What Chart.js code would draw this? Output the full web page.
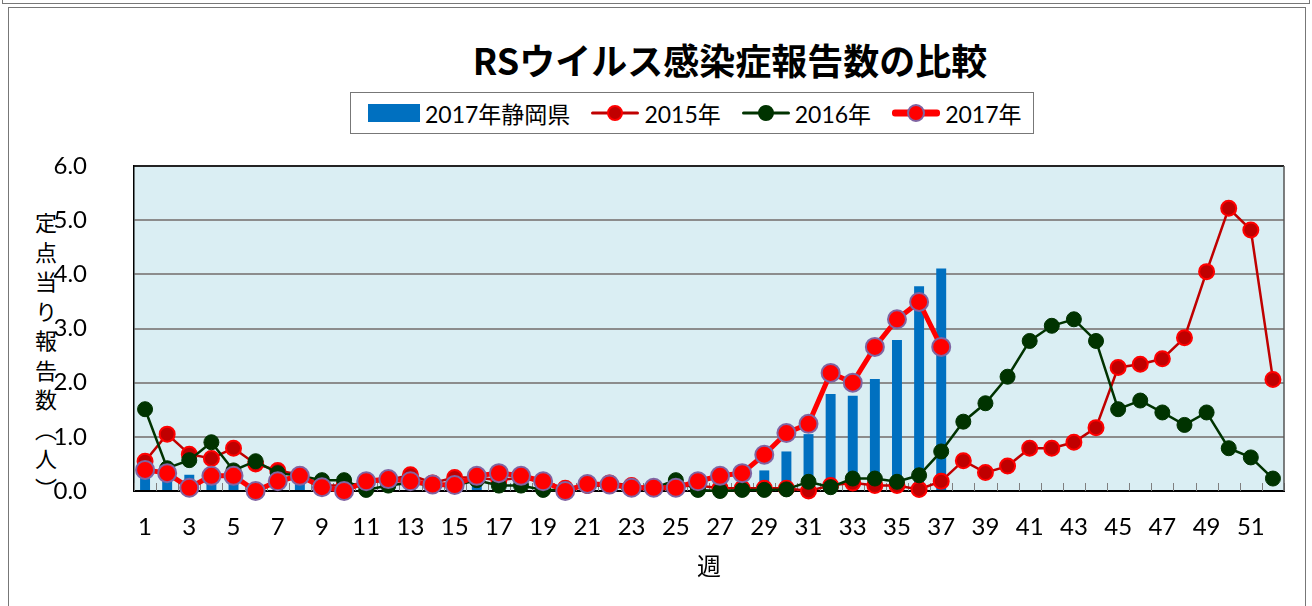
<!DOCTYPE html>
<html>
<head>
<meta charset="utf-8">
<script src="https://cdn.jsdelivr.net/npm/chart.js@4/dist/chart.umd.min.js"></script>
<style>
body { margin: 0; width: 1312px; height: 606px; background: #fff; position: relative; overflow: hidden;
       font-family: Lato, "Noto Sans CJK JP", sans-serif; }
#topbox { position: absolute; left: 2px; top: -10px; width: 1306px; height: 12px; border: 1px solid #777; }
#frame { position: absolute; left: 8px; top: 7px; width: 1296px; height: 640px; border: 1px solid #777; }
#title { position: absolute; left: 0; width: 1460px; text-align: center; top: 33px;
         font: bold 36px "Noto Sans CJK JP", sans-serif; white-space: nowrap; }
#legend { position: absolute; left: 350px; top: 92px; width: 684px; height: 42px; border: 1px solid #777; box-sizing: border-box;
          display: flex; align-items: center; padding-left: 17px; gap: 21px; font-size: 23px; }
#legend .it { display: flex; align-items: center; gap: 5px; }
#legend .bar { width: 52px; height: 18px; background: #0070C0; display: inline-block; }
#legend .ln { width: 48px; height: 18px; position: relative; display: inline-block; }
#legend .ln::before { content: ""; position: absolute; left: 0; right: 0; top: 50%; height: var(--lw); transform: translateY(-50%);
                      background: var(--c); border-radius: 3px; }
#legend .ln::after { content: ""; position: absolute; left: 50%; top: 50%; width: var(--d); height: var(--d);
                     transform: translate(-50%, -50%); border-radius: 50%; background: var(--f); border: 2px solid var(--b); box-sizing: border-box; }
#ytitle { position: absolute; left: 30px; top: 212px; writing-mode: vertical-rl; font: 22px "Noto Sans CJK JP", sans-serif;
          letter-spacing: 7.5px; }
canvas { position: absolute; left: 0; top: 0; }
</style>
</head>
<body>
<div id="topbox"></div>
<div id="frame"></div>
<div id="title">RSウイルス感染症報告数の比較</div>
<div id="legend">
  <span class="it"><i class="bar"></i>2017年静岡県</span>
  <span class="it"><i class="ln" style="--c:#C00000;--lw:3px;--d:16px;--f:#C00000;--b:#FF0000"></i>2015年</span>
  <span class="it"><i class="ln" style="--c:#003300;--lw:3px;--d:16px;--f:#003300;--b:#003300"></i>2016年</span>
  <span class="it"><i class="ln" style="--c:#FF0000;--lw:7px;--d:18px;--f:#FF0000;--b:#8064A2"></i>2017年</span>
</div>
<div id="ytitle">定点当り報告数（人）</div>
<canvas id="chart" width="1312" height="606"></canvas>
<script>
const weeks = [1, 2, 3, 4, 5, 6, 7, 8, 9, 10, 11, 12, 13, 14, 15, 16, 17, 18, 19, 20, 21, 22, 23, 24, 25, 26,
               27, 28, 29, 30, 31, 32, 33, 34, 35, 36, 37, 38, 39, 40, 41, 42, 43, 44, 45, 46, 47, 48, 49, 50, 51, 52];

const shizuoka2017 = [0.35, 0.2, 0.3, 0.25, 0.25, 0.0, 0.1, 0.15, 0.05, 0.0, 0.1, 0.1, 0.15, 0.05, 0.05, 0.2,
                      0.1, 0.15, 0.05, 0.0, 0.05, 0.05, 0.0, 0.0, 0.05, 0.1, 0.1, 0.1, 0.38, 0.73, 1.05, 1.79,
                      1.76, 2.07, 2.79, 3.78, 4.11];

const rate2015 = [0.55, 1.05, 0.68, 0.6, 0.79, 0.5, 0.38, 0.3, 0.1, 0.1, 0.15, 0.2, 0.3, 0.15, 0.25, 0.25,
                  0.2, 0.25, 0.15, 0.05, 0.1, 0.15, 0.1, 0.05, 0.1, 0.1, 0.05, 0.05, 0.05, 0.05, 0.0, 0.1,
                  0.15, 0.1, 0.1, 0.03, 0.18, 0.56, 0.34, 0.46, 0.79, 0.79, 0.9, 1.17, 2.28, 2.34, 2.44, 2.83,
                  4.05, 5.22, 4.82, 2.06];

const rate2016 = [1.51, 0.42, 0.57, 0.9, 0.38, 0.55, 0.33, 0.28, 0.2, 0.2, 0.02, 0.1, 0.15, 0.1, 0.1, 0.2,
                  0.1, 0.1, 0.02, 0.02, 0.1, 0.1, 0.05, 0.05, 0.2, 0.02, 0.0, 0.02, 0.02, 0.03, 0.17, 0.07,
                  0.23, 0.23, 0.17, 0.29, 0.73, 1.28, 1.62, 2.11, 2.77, 3.05, 3.17, 2.77, 1.51, 1.67, 1.45, 1.22,
                  1.45, 0.79, 0.62, 0.23];

const rate2017 = [0.39, 0.33, 0.06, 0.28, 0.28, 0.0, 0.18, 0.28, 0.07, 0.0, 0.18, 0.22, 0.18, 0.12, 0.11, 0.28,
                  0.33, 0.28, 0.18, 0.0, 0.13, 0.12, 0.06, 0.06, 0.06, 0.18, 0.28, 0.33, 0.67, 1.07, 1.24, 2.18,
                  2.0, 2.66, 3.17, 3.49, 2.66];

// plot background, inner tick marks on the x axis, top/right border
const plotDecor = {
    id: 'plotDecor',
    beforeDraw(chart) {
        const { ctx, chartArea: a } = chart;
        ctx.save();
        ctx.fillStyle = '#DAEEF3';
        ctx.fillRect(a.left, a.top, a.right - a.left, a.bottom - a.top);
        ctx.restore();
    },
    beforeDatasetsDraw(chart) {
        const { ctx, chartArea: a, scales: { x } } = chart;
        ctx.save();
        ctx.strokeStyle = '#7f7f7f';
        ctx.lineWidth = 1;
        for (let i = 0; i <= weeks.length; i++) {
            const px = Math.round(x.getPixelForValue(i - 0.5)) + 0.5;
            ctx.beginPath();
            ctx.moveTo(px, a.bottom);
            ctx.lineTo(px, a.bottom - 8);
            ctx.stroke();
        }
        ctx.strokeStyle = '#000';
        ctx.lineWidth = 1.5;
        ctx.beginPath();
        ctx.moveTo(a.left, a.top);
        ctx.lineTo(a.right, a.top);
        ctx.stroke();
        ctx.strokeStyle = '#555';
        ctx.beginPath();
        ctx.moveTo(a.right, a.top);
        ctx.lineTo(a.right, a.bottom);
        ctx.stroke();
        ctx.restore();
    }
};

new Chart(document.getElementById('chart'), {
    data: {
        labels: weeks,
        datasets: [
            {
                type: 'line', label: '2017年', data: rate2017, order: 0, clip: false,
                borderColor: '#FF0000', borderWidth: 5, backgroundColor: '#FF0000',
                pointRadius: 9, pointBorderWidth: 2, pointBorderColor: '#8064A2', pointBackgroundColor: '#FF0000'
            },
            {
                type: 'line', label: '2016年', data: rate2016, order: 1, clip: false,
                borderColor: '#003300', borderWidth: 2.5, backgroundColor: '#003300',
                pointRadius: 7.5, pointBorderWidth: 1, pointBorderColor: '#003300', pointBackgroundColor: '#003300'
            },
            {
                type: 'line', label: '2015年', data: rate2015, order: 2, clip: false,
                borderColor: '#C00000', borderWidth: 2.5, backgroundColor: '#C00000',
                pointRadius: 7.5, pointBorderWidth: 2, pointBorderColor: '#FF0000', pointBackgroundColor: '#C00000'
            },
            {
                type: 'bar', label: '2017年静岡県', data: shizuoka2017, order: 3,
                backgroundColor: '#0070C0', barPercentage: 0.45, categoryPercentage: 1
            }
        ]
    },
    options: {
        responsive: false,
        animation: false,
        layout: { padding: { left: 0, right: 28, top: 166, bottom: 0 } },
        plugins: { legend: { display: false }, tooltip: { enabled: false } },
        scales: {
            x: {
                offset: true,
                grid: { display: false, drawTicks: false, tickLength: 0 },
                border: { display: true, color: '#000', width: 2 },
                ticks: {
                    autoSkip: false, maxRotation: 0, padding: 22, color: '#000',
                    font: { family: 'Lato, "Noto Sans CJK JP"', size: 24 },
                    callback: (v, i) => (i % 2 === 0 ? String(weeks[i]) : '')
                },
                title: {
                    display: true, text: '週', color: '#000',
                    font: { family: '"Noto Sans CJK JP"', size: 24 }, padding: { top: 0, bottom: 26 }
                },
                afterFit: s => { s.height = 115; }
            },
            y: {
                min: 0, max: 6,
                grid: { color: '#8c8c8c', lineWidth: 2, drawTicks: false },
                border: { display: true, color: '#000', width: 1.5 },
                ticks: {
                    stepSize: 1, padding: 47, color: '#000',
                    font: { family: 'Lato, "Noto Sans CJK JP"', size: 24 },
                    callback: v => Number(v).toFixed(1)
                },
                afterFit: s => { s.width = 134; }
            }
        }
    },
    plugins: [plotDecor]
});
</script>
</body>
</html>
